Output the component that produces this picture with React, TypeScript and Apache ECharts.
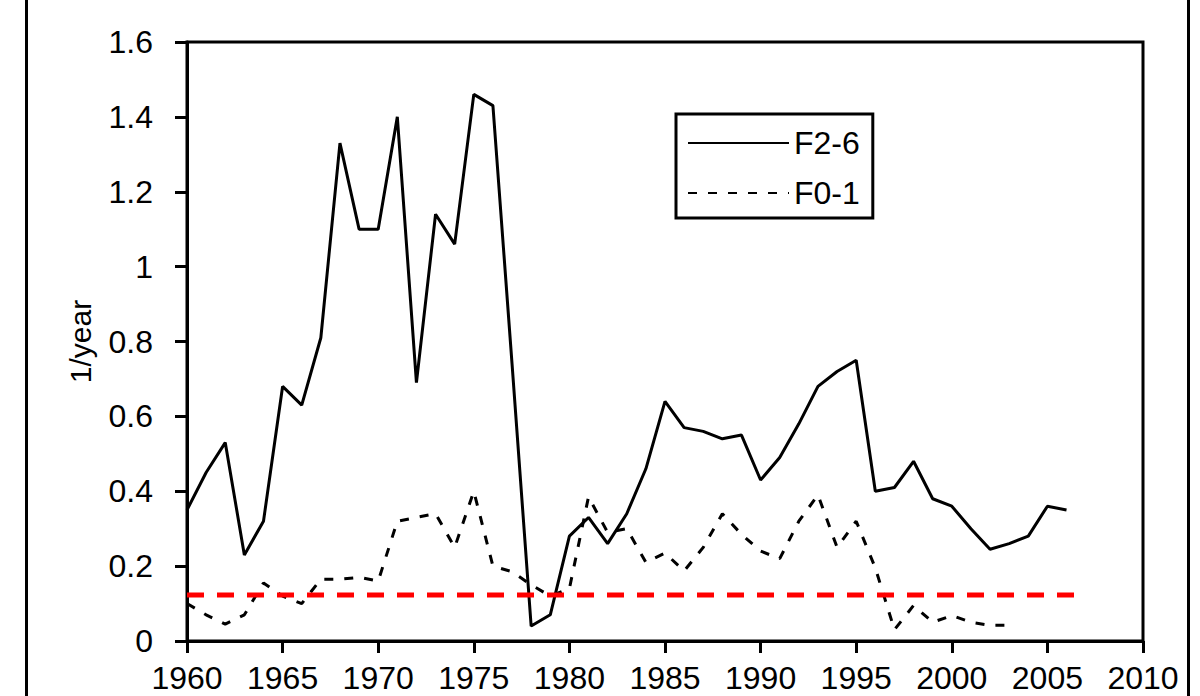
import React, { useEffect, useRef } from "react";
import * as echarts from "echarts";

const F26_YEARS = [
  1960, 1961, 1962, 1963, 1964, 1965, 1966, 1967, 1968, 1969,
  1970, 1971, 1972, 1973, 1974, 1975, 1976, 1977, 1978, 1979,
  1980, 1981, 1982, 1983, 1984, 1985, 1986, 1987, 1988, 1989,
  1990, 1991, 1992, 1993, 1994, 1995, 1996, 1997, 1998, 1999,
  2000, 2001, 2002, 2003, 2004, 2005, 2006,
];
const F26_VALUES = [
  0.35, 0.45, 0.53, 0.23, 0.32, 0.68, 0.63, 0.81, 1.33, 1.1,
  1.1, 1.4, 0.69, 1.14, 1.06, 1.46, 1.43, 0.74, 0.04, 0.07,
  0.28, 0.33, 0.26, 0.34, 0.46, 0.64, 0.57, 0.56, 0.54, 0.55,
  0.43, 0.49, 0.58, 0.68, 0.72, 0.75, 0.4, 0.41, 0.48, 0.38,
  0.36, 0.3, 0.245, 0.26, 0.28, 0.36, 0.35,
];

const F01_YEARS = [
  1960, 1961, 1962, 1963, 1964, 1965, 1966, 1967, 1968, 1969,
  1970, 1971, 1972, 1973, 1974, 1975, 1976, 1977, 1978, 1979,
  1980, 1981, 1982, 1983, 1984, 1985, 1986, 1987, 1988, 1989,
  1990, 1991, 1992, 1993, 1994, 1995, 1996, 1997, 1998, 1999,
  2000, 2001, 2002, 2003,
];
const F01_VALUES = [
  0.1, 0.07, 0.045, 0.07, 0.155, 0.12, 0.1, 0.165, 0.165, 0.17,
  0.16, 0.32, 0.33, 0.34, 0.25, 0.4, 0.2, 0.185, 0.15, 0.12,
  0.14, 0.385, 0.29, 0.3, 0.21, 0.235, 0.187, 0.25, 0.34, 0.285,
  0.24, 0.22, 0.32, 0.39, 0.25, 0.32, 0.195, 0.03, 0.095, 0.05,
  0.068, 0.05, 0.042, 0.042,
];

const REF_YEARS = [1960, 2007];
const REF_VALUE = 0.123;

const X_MIN = 1960;
const X_MAX = 2010;
const X_STEP = 5;
const Y_MIN = 0;
const Y_MAX = 1.6;
const Y_STEP = 0.2;

const SERIES_NAMES = ["F2-6", "F0-1"];
const Y_NAME = "1/year";

const FONT = "'Liberation Sans', Arial, sans-serif";

export default function App() {
  const ref = useRef<HTMLDivElement>(null);

  useEffect(() => {
    if (!ref.current) return;
    const chart = echarts.init(ref.current, null, { renderer: "svg" });
    const pairs = (xs: number[], ys: number[]) => xs.map((x, i) => [x, ys[i]]);

    chart.setOption({
      animation: false,
      backgroundColor: "#ffffff",
      textStyle: { fontFamily: FONT },
      grid: {
        left: 187,
        right: 57,
        top: 42,
        bottom: 55,
        show: true,
        borderColor: "#000",
        borderWidth: 3,
        backgroundColor: "transparent",
      },
      legend: {
        data: SERIES_NAMES,
        orient: "vertical",
        left: 676,
        top: 114,
        padding: [13, 13, 9, 11],
        itemWidth: 101,
        itemHeight: 14,
        itemGap: 18,
        borderColor: "#000",
        borderWidth: 3,
        backgroundColor: "#fff",
        itemStyle: { opacity: 0 },
        textStyle: {
          fontFamily: FONT,
          fontSize: 32,
          lineHeight: 32,
          color: "#000",
        },
      },
      xAxis: {
        type: "value",
        min: X_MIN,
        max: X_MAX,
        interval: X_STEP,
        splitLine: { show: false },
        axisLine: { show: true, lineStyle: { color: "#000", width: 3 } },
        axisTick: { show: true, length: 12, lineStyle: { color: "#000", width: 3 } },
        axisLabel: {
          color: "#000",
          fontFamily: FONT,
          fontSize: 32,
          lineHeight: 32,
          margin: 21,
          showMinLabel: true,
          showMaxLabel: true,
          formatter: (v: number) => String(v),
        },
      },
      yAxis: {
        type: "value",
        min: Y_MIN,
        max: Y_MAX,
        interval: Y_STEP,
        name: Y_NAME,
        nameLocation: "middle",
        nameRotate: 90,
        nameGap: 92,
        nameTextStyle: { color: "#000", fontFamily: FONT, fontSize: 30 },
        splitLine: { show: false },
        axisLine: { show: true, lineStyle: { color: "#000", width: 3 } },
        axisTick: { show: true, length: 12, lineStyle: { color: "#000", width: 3 } },
        axisLabel: {
          color: "#000",
          fontFamily: FONT,
          fontSize: 32,
          margin: 34,
        },
      },
      series: [
        {
          name: SERIES_NAMES[0],
          type: "line",
          data: pairs(F26_YEARS, F26_VALUES),
          symbol: "none",
          lineStyle: { color: "#000", width: 3, type: "solid" },
          itemStyle: { color: "#000" },
          z: 3,
        },
        {
          name: SERIES_NAMES[1],
          type: "line",
          data: pairs(F01_YEARS, F01_VALUES),
          symbol: "none",
          lineStyle: { color: "#000", width: 3, type: [9, 11] },
          itemStyle: { color: "#000" },
          z: 2,
        },
        {
          name: "ref",
          type: "line",
          data: REF_YEARS.map((y) => [y, REF_VALUE]),
          symbol: "none",
          lineStyle: { color: "#ff0000", width: 5, type: [17, 13] },
          itemStyle: { color: "#ff0000" },
          z: 4,
        },
      ],
      graphic: [
        {
          type: "rect",
          left: 24,
          top: -20,
          shape: { x: 0, y: 0, width: 1162, height: 740 },
          style: { fill: "none", stroke: "#000", lineWidth: 3 },
          silent: true,
          z: 10,
        },
      ],
    });

    return () => chart.dispose();
  }, []);

  return (
    <div
      ref={ref}
      style={{ position: "fixed", left: 0, top: 0, width: 1200, height: 696 }}
    />
  );
}
